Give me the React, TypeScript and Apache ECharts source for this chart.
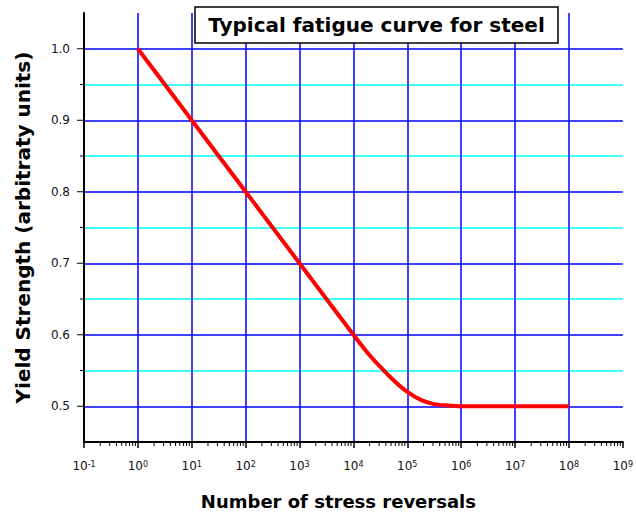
import React, { useEffect, useRef } from 'react';
import * as echarts from 'echarts';

// Curve readings: number of stress reversals vs. yield strength
const cycles = [1, 10, 100, 1000, 10000, 17783, 31623, 56234, 100000, 177828, 316228, 562341, 1000000, 100000000];
const strength = [1.0, 0.9, 0.8, 0.7, 0.6, 0.576, 0.555, 0.536, 0.52, 0.509, 0.503, 0.501, 0.5, 0.5];

// Axis settings / tick values
const xMin = 0.1;
const xMax = 1e9;
const yMin = 0.45;
const yMax = 1.05;
const xDecades = [0.1, 1, 10, 100, 1000, 10000, 100000, 1000000, 10000000, 100000000];
const minorMultipliers = [2, 3, 4, 5, 6, 7, 8, 9];
const yMajorTicks = [0.5, 0.6, 0.7, 0.8, 0.9, 1.0];
const yMinorTicks = [0.55, 0.65, 0.75, 0.85, 0.95];

const titleText = 'Typical fatigue curve for steel';
const xName = 'Number of stress reversals';
const yName = 'Yield Strength (arbitraty units)';

const FONT = '"DejaVu Sans", Verdana, sans-serif';

export default function App() {
  const ref = useRef<HTMLDivElement>(null);

  useEffect(() => {
    if (!ref.current) return;
    const chart = echarts.init(ref.current, null, { renderer: 'svg' });

    const xMinorValues: number[][] = [];
    xDecades.forEach((d) => minorMultipliers.forEach((m) => xMinorValues.push([d * m, yMin])));

    const tickSeries = (name: string, data: number[][], dir: 'down' | 'left', len: number) => ({
      type: 'custom',
      name,
      silent: true,
      z: 10,
      clip: false,
      data,
      renderItem: (_p: any, api: any) => {
        const pt = api.coord([api.value(0), api.value(1)]);
        const shape =
          dir === 'down'
            ? { x1: pt[0], y1: pt[1], x2: pt[0], y2: pt[1] + len }
            : { x1: pt[0], y1: pt[1], x2: pt[0] - len, y2: pt[1] };
        return { type: 'line', shape, style: { stroke: '#000', lineWidth: 1 } };
      },
    });

    chart.setOption({
      animation: false,
      backgroundColor: '#ffffff',
      grid: { left: 84, right: 11, top: 13, bottom: 70 },
      xAxis: {
        type: 'log',
        logBase: 10,
        min: xMin,
        max: xMax,
        interval: 1,
        splitNumber: 10,
        name: xName,
        nameLocation: 'middle',
        nameGap: 50,
        nameTextStyle: {
          fontFamily: FONT,
          fontSize: 18,
          fontWeight: 'bold',
          color: '#000',
          padding: [0, 30, 0, 0],
        },
        axisLine: { show: true, onZero: false, lineStyle: { color: '#000', width: 2 } },
        axisTick: { show: true, length: 6, lineStyle: { color: '#000', width: 1.5 } },
        axisLabel: {
          margin: 18,
          color: '#111',
          fontFamily: FONT,
          formatter: (v: number) => '{b|10}{s|' + Math.round(Math.log10(v)) + '}',
          rich: {
            b: { fontSize: 12, fontFamily: FONT, color: '#111' },
            s: { fontSize: 8, fontFamily: FONT, color: '#111', verticalAlign: 'top' },
          },
        },
        splitLine: {
          show: true,
          showMinLine: false,
          showMaxLine: false,
          lineStyle: { color: '#0000ff', width: 1.5 },
        },
      },
      yAxis: {
        type: 'value',
        min: yMin,
        max: yMax,
        interval: 0.05,
        name: yName,
        nameLocation: 'middle',
        nameGap: 51,
        nameTextStyle: { fontFamily: FONT, fontSize: 20, fontWeight: 'bold', color: '#000' },
        axisLine: { show: true, onZero: false, lineStyle: { color: '#000', width: 2 } },
        axisTick: { show: false },
        axisLabel: {
          margin: 14,
          fontSize: 12,
          fontFamily: FONT,
          color: '#111',
          formatter: (v: number) => (Math.round(v * 100) % 10 === 0 ? v.toFixed(1) : ''),
        },
        splitLine: {
          show: true,
          showMinLine: false,
          showMaxLine: false,
          lineStyle: { color: ['#0000ff', '#00ffff'], width: 1.5 },
        },
      },
      graphic: [
        {
          type: 'group',
          z: 100,
          children: [
            {
              type: 'rect',
              z: 100,
              shape: { x: 195, y: 7, width: 363, height: 36 },
              style: { fill: '#fff', stroke: '#000', lineWidth: 1.5 },
            },
            {
              type: 'text',
              z: 101,
              x: 376.5,
              y: 25,
              style: {
                text: titleText,
                fontFamily: FONT,
                fontSize: 20,
                fontWeight: 'bold',
                fill: '#000',
                align: 'center',
                verticalAlign: 'middle',
              },
            },
          ],
        },
      ],
      series: [
        {
          type: 'line',
          name: 'fatigue',
          data: cycles.map((c, i) => [c, strength[i]]),
          showSymbol: false,
          symbol: 'none',
          smooth: 0.3,
          z: 5,
          lineStyle: { color: '#ff0000', width: 4 },
        },
        tickSeries('xminor', xMinorValues, 'down', 4),
        tickSeries('ymajor', yMajorTicks.map((v) => [xMin, v]), 'left', 7),
        tickSeries('yminor', yMinorTicks.map((v) => [xMin, v]), 'left', 4),
      ],
    });

    return () => chart.dispose();
  }, []);

  return (
    <div
      ref={ref}
      style={{ position: 'absolute', left: 0, top: 0, width: 636, height: 515 }}
    />
  );
}
